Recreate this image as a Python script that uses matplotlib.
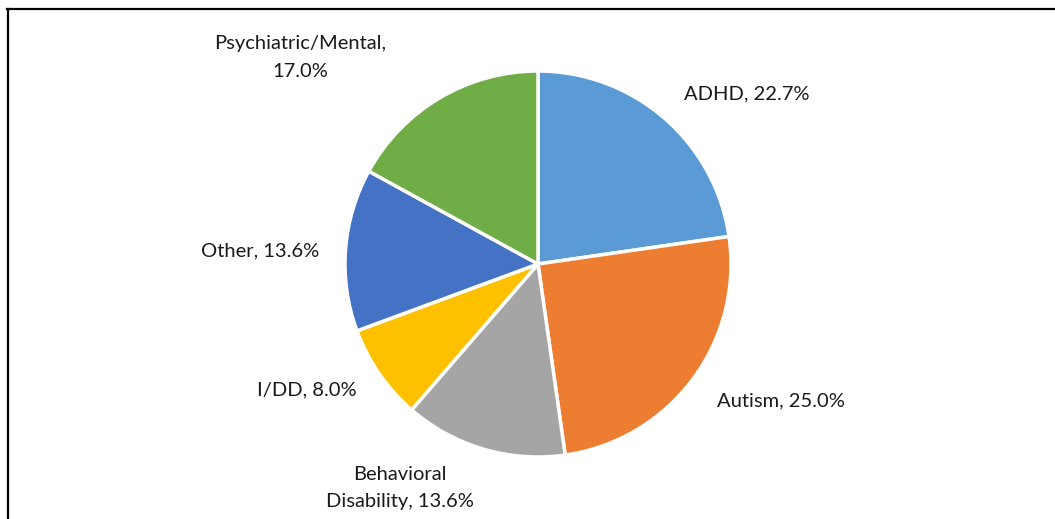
import matplotlib.pyplot as plt
from matplotlib.lines import Line2D

# Share of cases by primary diagnosis
categories = ["ADHD", "Autism", "Behavioral\nDisability", "I/DD", "Other", "Psychiatric/Mental"]
shares = [22.7, 25.0, 13.6, 8.0, 13.6, 17.0]
colors = ["#5B9BD5", "#ED7D31", "#A5A5A5", "#FFC000", "#4472C4", "#70AD47"]

# where each data label sits, in pie-radius units from the centre
label_pos = [(1.08, 0.88), (1.26, -0.71), (-0.715, -1.16), (-1.20, -0.65), (-1.44, 0.07), (-1.23, 1.07)]

plt.rcParams['font.family'] = ['Lato', 'DejaVu Sans']

fig = plt.figure(figsize=(10.55, 5.19), dpi=100)
ax = fig.add_axes([0, 0, 1, 1])

wedges, _ = ax.pie(shares, colors=colors, startangle=90, counterclock=False,
                   radius=1.0, wedgeprops=dict(edgecolor="white", linewidth=2.5))

for cat, val, (x, y) in zip(categories, shares, label_pos):
    if "\n" in cat:
        first, second = cat.split("\n")
        txt = f"{first}\n{second}, {val:.1f}%"
    elif "/" in cat and cat != "I/DD":
        txt = f"{cat},\n{val:.1f}%"
    else:
        txt = f"{cat}, {val:.1f}%"
    ax.text(x, y, txt, ha="center", va="center", fontsize=14.5, color="#1a1a1a",
            linespacing=1.75)

# 1 data unit = 193 px, pie centre at (538, 264) px from top-left
px = 193.0
ax.set_xlim(-538 / px, (1055 - 538) / px)
ax.set_ylim(-(519 - 264) / px, 264 / px)
ax.set_aspect("auto")
ax.axis("off")

# chart frame (top and left edges)
W, H = 1055.0, 519.0
fig.add_artist(Line2D([7 / W, 1.0], [1 - 8.5 / H, 1 - 8.5 / H], color="black", linewidth=1.6,
                      transform=fig.transFigure))
fig.add_artist(Line2D([7.5 / W, 7.5 / W], [0.0, 1 - 8.5 / H], color="black", linewidth=1.6,
                      transform=fig.transFigure))

fig.savefig("out.png", dpi=100, facecolor="white")
